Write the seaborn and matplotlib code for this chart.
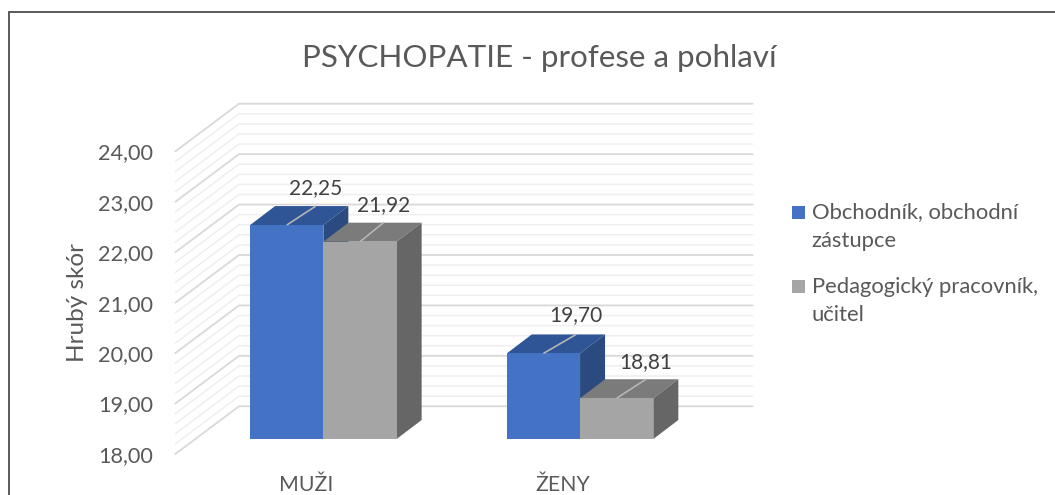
import numpy as np
import pandas as pd
import matplotlib
matplotlib.use("Agg")
import matplotlib.pyplot as plt
from matplotlib.lines import Line2D
from matplotlib.patches import Polygon, Rectangle
from matplotlib.legend_handler import HandlerPatch
from matplotlib.transforms import ScaledTranslation
import seaborn as sns

categories = ["MUŽI", "ŽENY"]
series_names = ["Obchodník, obchodní\nzástupce", "Pedagogický pracovník,\nučitel"]
values_sales = [22.25, 19.70]
values_teachers = [21.92, 18.81]
y_ticks = [18, 19, 20, 21, 22, 23, 24]
title = "PSYCHOPATIE - profese a pohlaví"
y_title = "Hrubý skór"

W, H = 1055, 495
TEXT = "#595959"
FRONT = ["#4472C4", "#A5A5A5"]
TOP = ["#2F5597", "#7B7B7B"]
SIDE = ["#2A4A80", "#666666"]

sns.set_theme(style="white")
plt.rcParams["font.family"] = ["Lato", "DejaVu Sans"]

fig = plt.figure(figsize=(W / 100, H / 100), dpi=100, facecolor="white")


def rect(l, t, r, b):
    return [l / W, 1 - b / H, (r - l) / W, (b - t) / H]


# Walls: front edge at x=0, back wall shifted up and to the right
wall_dx, wall_w = 63.7, 577.4
wall_depth = 47.7 / 50.4
ax_wall = fig.add_axes(rect(175.3, 103.7, 752.7, 454))
ax_wall.set_xlim(0, wall_w)
ax_wall.set_ylim(y_ticks[0], y_ticks[-1] + wall_depth)
for lev in np.arange(y_ticks[0], y_ticks[-1] + 0.01, 0.2):
    major = abs(lev - round(lev)) < 1e-6
    ax_wall.plot([0, wall_dx, wall_w], [lev, lev + wall_depth, lev + wall_depth],
                 color="#D9D9D9" if major else "#EFEFEF",
                 lw=1.3 if major else 1.1, solid_joinstyle="miter",
                 zorder=2 if major else 1, clip_on=False)
ax_wall.set_xticks([])
ax_wall.set_yticks(y_ticks)
ax_wall.set_yticklabels([f"{t:.2f}".replace(".", ",") for t in y_ticks],
                        fontsize=15.6, color=TEXT)
ax_wall.tick_params(axis="y", length=0, pad=16)
for s in ax_wall.spines.values():
    s.set_visible(False)
ax_wall.patch.set_alpha(0)

# Bars: plane of the front faces
ax = fig.add_axes(rect(195, 137, 708.4, 439))
ax.patch.set_alpha(0)
df = pd.DataFrame({
    "category": categories * 2,
    "value": values_sales + values_teachers,
    "series": [series_names[0]] * 2 + [series_names[1]] * 2,
})
sns.barplot(data=df, x="category", y="value", hue="series", hue_order=series_names,
            palette=FRONT, saturation=1, width=0.571, gap=0, dodge=True,
            legend=False, ax=ax, linewidth=0, errorbar=None)
ax.set_xlim(-0.5, 1.5)
ax.set_ylim(y_ticks[0], y_ticks[-1])
ax.set_yticks([])
ax.set_xlabel("")
ax.set_ylabel("")
for s in ax.spines.values():
    s.set_visible(False)
ax.tick_params(axis="x", length=0, pad=26)
ax.set_xticks(range(len(categories)))
ax.set_xticklabels(categories, fontsize=15.3, color=TEXT)
shift = ScaledTranslation(-17 / 100, 0, fig.dpi_scale_trans)
for lab in ax.get_xticklabels():
    lab.set_transform(lab.get_transform() + shift)

px_x = 2 / 513.4
px_y = 6 / 302
depth_x, depth_y = 25 * px_x, 19 * px_y
bars = list(ax.patches)
n = len(categories)
# pixel tweaks per label, bars run through the first series, then the second
label_nudge = [(4, 0), (7.7, 1), (-1.5, 0), (4.3, -1)]
for k, bar in enumerate(bars):
    hue_i = k // n
    x0, w, v = bar.get_x(), bar.get_width(), bar.get_height()
    base = y_ticks[0]
    bar.set_zorder(3 + 2 * hue_i)
    ax.add_patch(Polygon([(x0, v), (x0 + w, v), (x0 + w + depth_x, v + depth_y),
                          (x0 + depth_x, v + depth_y)], closed=True,
                         facecolor=TOP[hue_i], edgecolor="none", zorder=2 + 2 * hue_i))
    ax.add_patch(Polygon([(x0 + w, base), (x0 + w + depth_x, base + depth_y),
                          (x0 + w + depth_x, v + depth_y), (x0 + w, v)], closed=True,
                         facecolor=SIDE[hue_i], edgecolor="none", zorder=2 + 2 * hue_i))
    nx, ny = label_nudge[k]
    cx = x0 + w / 2
    end_x = cx + depth_x + nx * px_x
    ax.plot([cx, end_x], [v, v + depth_y], color="#B5B5B5", lw=1.2, zorder=10,
            solid_capstyle="butt")
    ax.text(end_x, v + depth_y + (18 + ny) * px_y, f"{v:.2f}".replace(".", ","),
            ha="center", va="center", fontsize=15, color="#404040", zorder=11)


class TopHandle(HandlerPatch):
    def create_artists(self, legend, orig, xd, yd, width, height, fontsize, trans):
        r = Rectangle((-xd, -yd + 10.4), width, height,
                      facecolor=orig.get_facecolor(), edgecolor="none", transform=trans)
        return [r]


handles = [Rectangle((0, 0), 1, 1, facecolor=c) for c in FRONT]
leg = ax.legend(handles, series_names, loc="upper left", frameon=False,
                bbox_to_anchor=(792.3 / W, 1 - 202.5 / H), bbox_transform=fig.transFigure,
                fontsize=15.8, labelcolor=TEXT, handlelength=0.575, handleheight=0.575,
                handletextpad=0.3, labelspacing=1.19, borderpad=0, borderaxespad=0,
                handler_map={Rectangle: TopHandle()})
for t in leg.get_texts():
    t.set_linespacing(1.51)

fig.text(539.5 / W, 1 - 58 / H, title, ha="center", va="center", fontsize=22.6, color=TEXT)
fig.text(77 / W, 1 - 302 / H, y_title, rotation=90, ha="center", va="center",
         fontsize=17.5, color=TEXT)

fig.add_artist(Line2D([8.5 / W, 8.5 / W, 1], [0, 1 - 11.5 / H, 1 - 11.5 / H],
                      color="#5A5A5A", lw=1.4, transform=fig.transFigure,
                      solid_joinstyle="miter"))

fig.savefig("out.png", dpi=100, facecolor="white")
